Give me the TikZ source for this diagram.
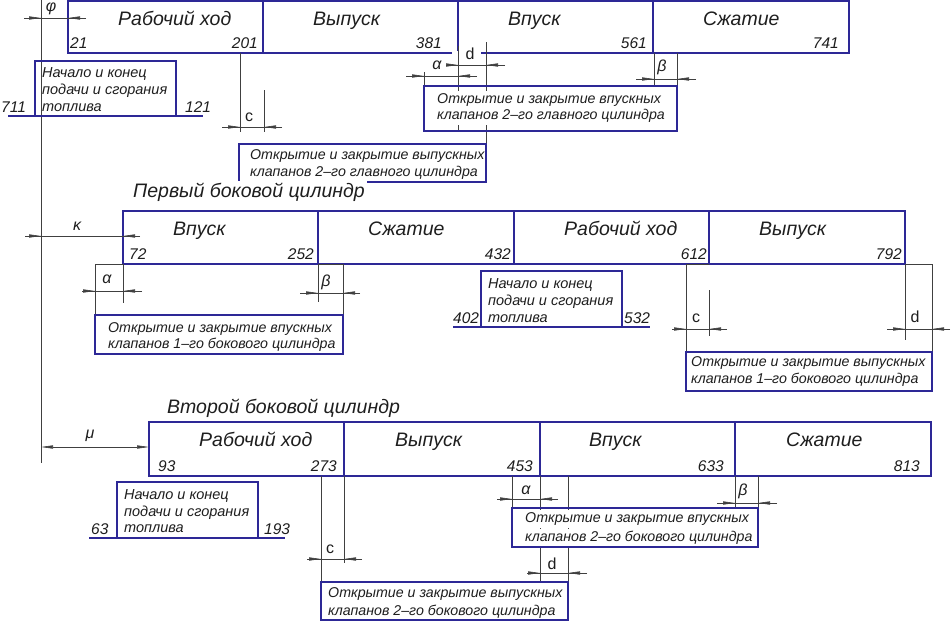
\documentclass[tikz,border=0pt]{standalone}
\usepackage{fontspec}
\setmainfont{Liberation Sans}
\usetikzlibrary{arrows.meta}
\definecolor{bl}{RGB}{45,40,150}
\definecolor{ink}{RGB}{30,30,30}
\newcommand\dimo[5]{%
  \draw[thinl] (#2,#1) -- (#5,#1);
  \draw[thinl,tipr] (#2,#1) -- (#3,#1);
  \draw[thinl,tipr] (#5,#1) -- (#4,#1);}
\begin{document}
\begin{tikzpicture}[x=1pt,y=-1pt,
  blu/.style={draw=bl,line width=1.3pt},
  thinl/.style={draw=ink!85,line width=0.6pt},
  tipr/.style={-{Triangle[length=12pt,width=3.2pt]}},
  lbl/.style={font=\fontsize{19.5}{22}\selectfont\itshape,text=ink,anchor=base west,inner sep=0pt},
  num/.style={font=\fontsize{15.5}{18}\selectfont\itshape,text=ink,inner sep=0pt},
  small/.style={font=\fontsize{14.5}{17}\selectfont\itshape,text=ink,anchor=base west,inner sep=0pt},
  vt/.style={font=\fontsize{14.2}{17}\selectfont\itshape,text=ink,anchor=base west,fill=white,inner xsep=1pt,inner ysep=1.5pt,text height=11pt,text depth=4pt},
  sym/.style={font=\fontsize{16}{18}\selectfont\itshape,text=ink,inner sep=0pt},
  up/.style={font=\fontsize{16}{18}\selectfont,text=ink,inner sep=0pt},
]
\useasboundingbox[fill=white] (0,0) rectangle (951,622);

% ---- main blue boxes
\draw[blu] (68,1) rectangle (849,53);
\foreach \x in {263,458,653} \draw[blu] (\x,1) -- (\x,53);
\draw[blu] (123,211) rectangle (905,264);
\foreach \x in {318,514,709} \draw[blu] (\x,211) -- (\x,264);
\draw[blu] (149,422) rectangle (931,476);
\foreach \x in {344,540,735} \draw[blu] (\x,422) -- (\x,476);

% gap in the line for d
\fill[white] (452,50.5) rectangle (481,55.5);
\node[up] (d1) at (470,54) {d};

% ---- axis
\draw[thinl] (41,0) -- (41,463);

% ---- row 1 dimensions
\dimo{18}{24}{41}{68}{86}
\draw[thinl] (240,53) -- (240,132);
\draw[thinl] (264,90) -- (264,132);
\dimo{127}{222}{240}{264}{282}
\draw[thinl] (424,72) -- (424,86);
\draw[thinl] (458,46) -- (458,131);
\dimo{76}{406}{424}{458}{477}
\draw[thinl] (486,42) -- (486,182);
\dimo{65}{447}{458}{486}{505}
\draw[thinl] (654,53) -- (654,86);
\draw[thinl] (677,53) -- (677,86);
\dimo{79}{636}{654}{677}{696}

% ---- row 2 dimensions
\dimo{236}{25}{41}{123}{140}
\draw[thinl] (123,264) -- (95,264) -- (95,315);
\draw[thinl] (123,264) -- (123,303);
\draw[thinl] (318,264) -- (318,302);
\draw[thinl] (318,264) -- (343,264) -- (343,315);
\dimo{291}{82}{95}{123}{142}
\dimo{293}{300}{318}{343}{360}
\draw[thinl] (709,264) -- (686,264) -- (686,352);
\draw[thinl] (709,290) -- (709,336);
\draw[thinl] (905,264) -- (932,264) -- (932,352);
\draw[thinl] (905,264) -- (905,340);
\dimo{329}{672}{686}{709}{727}
\dimo{329}{887}{905}{932}{950}

% ---- row 3 dimensions
\draw[thinl,{Triangle[length=12pt,width=3.2pt]}-{Triangle[length=12pt,width=3.2pt]}] (41,447) -- (149,447);
\draw[thinl] (321,476) -- (321,582);
\draw[thinl] (344,476) -- (344,563);
\dimo{559}{307}{321}{344}{362}
\draw[thinl] (540,476) -- (540,583);
\draw[thinl] (568,476) -- (568,582);
\dimo{573}{527}{540}{568}{587}
\draw[thinl] (512,476) -- (512,508);
\dimo{499}{497}{512}{540}{558}
\draw[thinl] (735,476) -- (735,508);
\draw[thinl] (758,476) -- (758,508);
\dimo{503}{717}{735}{758}{777}

% ---- valve texts
\node[vt] (v1a) at (436,103) {Открытие и закрытие впускных};
\node[vt] (v1b) at (436,119) {клапанов 2–го главного цилиндра};
\node[vt] (v2a) at (249,159) {Открытие и закрытие выпускных};
\node[vt] (v2b) at (249,176) {клапанов 2–го главного цилиндра};
\node[vt] (v3a) at (107,332) {Открытие и закрытие впускных};
\node[vt] (v3b) at (107,348) {клапанов 1–го бокового цилиндра};
\node[vt] (v4a) at (690,366) {Открытие и закрытие выпускных};
\node[vt] (v4b) at (690,383) {клапанов 1–го бокового цилиндра};
\node[vt] (v5a) at (524,522) {Открытие и закрытие впускных};
\node[vt] (v5b) at (524,541) {клапанов 2–го бокового цилиндра};
\node[vt] (v6a) at (327,597) {Открытие и закрытие выпускных};
\node[vt] (v6b) at (327,615) {клапанов 2–го бокового цилиндра};

% ---- valve boxes
\draw[blu] (424,86) rectangle (677,131);
\draw[blu] (239,144) rectangle (486,182);
\draw[blu] (95,315) rectangle (343,354);
\draw[blu] (686,352) rectangle (932,391);
\draw[blu] (512,508) rectangle (758,547);
\draw[blu] (321,582) rectangle (568,620);

% ---- fuel boxes
\draw[blu] (35,116) -- (35,61) -- (176,61) -- (176,116);
\draw[blu] (8,116) -- (203,116);
\draw[blu] (481,327) -- (481,271) -- (622,271) -- (622,327);
\draw[blu] (453,327) -- (650,327);
\draw[blu] (117,538) -- (117,482) -- (258,482) -- (258,538);
\draw[blu] (89,538) -- (285,538);

\node[small] (f1a) at (42,77) {Начало и конец};
\node[small] (f1b) at (42,94) {подачи и сгорания};
\node[small] (f1c) at (42,111) {топлива};
\node[small] (f2a) at (488,288) {Начало и конец};
\node[small] (f2b) at (488,305) {подачи и сгорания};
\node[small] (f2c) at (488,322) {топлива};
\node[small] (f3a) at (124,499) {Начало и конец};
\node[small] (f3b) at (124,516) {подачи и сгорания};
\node[small] (f3c) at (124,532) {топлива};

\node[num,anchor=base west] (n711) at (1,112) {711};
\node[num,anchor=base west] (n121) at (185,112) {121};
\node[num,anchor=base west] (n402) at (453,323) {402};
\node[num,anchor=base west] (n532) at (624,323) {532};
\node[num,anchor=base west] (n63) at (91,534) {63};
\node[num,anchor=base west] (n193) at (264,534) {193};

% ---- stroke labels
\node[lbl] (a1) at (118,25) {Рабочий ход};
\node[lbl] (a2) at (313,25) {Выпуск};
\node[lbl] (a3) at (508,25) {Впуск};
\node[lbl] (a4) at (703,25) {Сжатие};
\node[lbl] (b1) at (173,235) {Впуск};
\node[lbl] (b2) at (368,235) {Сжатие};
\node[lbl] (b3) at (564,235) {Рабочий ход};
\node[lbl] (b4) at (759,235) {Выпуск};
\node[lbl] (c1) at (199,446) {Рабочий ход};
\node[lbl] (c2) at (395,446) {Выпуск};
\node[lbl] (c3) at (589,446) {Впуск};
\node[lbl] (c4) at (786,446) {Сжатие};

% ---- angle numbers
\node[num,anchor=base west] (r21) at (70,48) {21};
\node[num,anchor=base east] (r201) at (258,48) {201};
\node[num,anchor=base east] (r381) at (442,48) {381};
\node[num,anchor=base east] (r561) at (647,48) {561};
\node[num,anchor=base east] (r741) at (839,48) {741};
\node[num,anchor=base west] (s72) at (129,259) {72};
\node[num,anchor=base east] (s252) at (314,259) {252};
\node[num,anchor=base east] (s432) at (511,259) {432};
\node[num,anchor=base east] (s612) at (707,259) {612};
\node[num,anchor=base east] (s792) at (902,259) {792};
\node[num,anchor=base west] (t93) at (158,471) {93};
\node[num,anchor=base east] (t273) at (337,471) {273};
\node[num,anchor=base east] (t453) at (533,471) {453};
\node[num,anchor=base east] (t633) at (724,471) {633};
\node[num,anchor=base east] (t813) at (920,471) {813};

% ---- titles
\node[lbl,fill=white,inner sep=2pt] (ti1) at (131,197) {Первый боковой цилиндр};
\node[lbl,fill=white,inner sep=2pt] (ti2) at (165,413) {Второй боковой цилиндр};

% ---- dimension symbols
\node[sym] (phi) at (51,9) {φ};
\node[up] (c1l) at (249,117) {c};
\node[sym] (al1) at (437,65) {α};
\node[sym] (be1) at (662,67) {β};
\node[sym] (ka) at (77,226) {κ};
\node[sym] (al2) at (107,279) {α};
\node[sym] (be2) at (326,282) {β};
\node[up] (c2l) at (696,318) {c};
\node[up] (d2l) at (915,317) {d};
\node[sym] (mu) at (90,436) {μ};
\node[up] (c3l) at (330,549) {c};
\node[up] (d3l) at (552,564) {d};
\node[sym] (al3) at (526,490) {α};
\node[sym] (be3) at (743,491) {β};
\end{tikzpicture}
\end{document}
